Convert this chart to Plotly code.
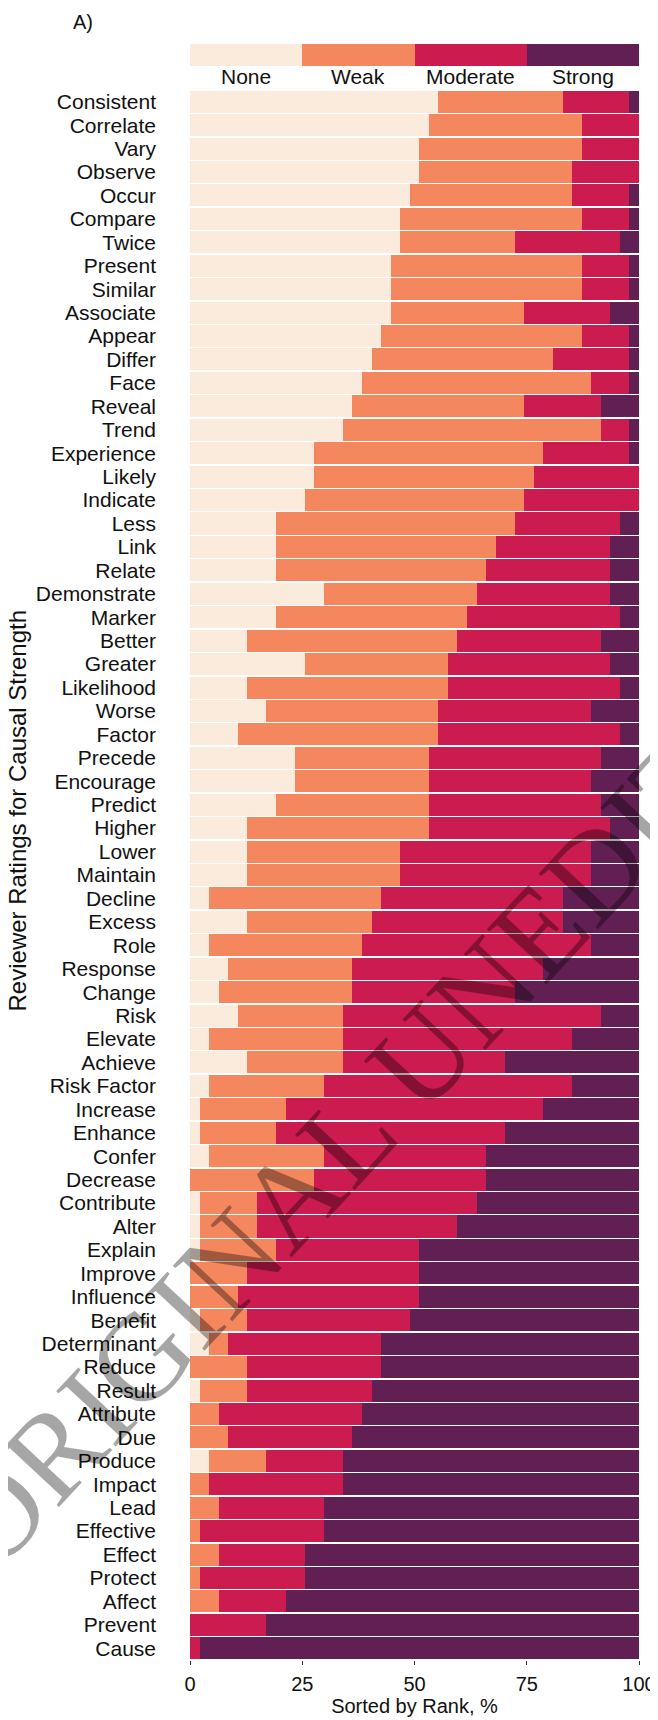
import plotly.graph_objects as go

# reviewer ratings, counts out of 47 reviewers per word
n_reviewers = 47

words = ['Consistent', 'Correlate', 'Vary', 'Observe', 'Occur', 'Compare', 'Twice', 'Present',
         'Similar', 'Associate', 'Appear', 'Differ', 'Face', 'Reveal', 'Trend', 'Experience',
         'Likely', 'Indicate', 'Less', 'Link', 'Relate', 'Demonstrate', 'Marker', 'Better',
         'Greater', 'Likelihood', 'Worse', 'Factor', 'Precede', 'Encourage', 'Predict', 'Higher',
         'Lower', 'Maintain', 'Decline', 'Excess', 'Role', 'Response', 'Change', 'Risk',
         'Elevate', 'Achieve', 'Risk Factor', 'Increase', 'Enhance', 'Confer', 'Decrease',
         'Contribute', 'Alter', 'Explain', 'Improve', 'Influence', 'Benefit', 'Determinant',
         'Reduce', 'Result', 'Attribute', 'Due', 'Produce', 'Impact', 'Lead', 'Effective',
         'Effect', 'Protect', 'Affect', 'Prevent', 'Cause']

none_n = [26, 25, 24, 24, 23, 22, 22, 21, 21, 21, 20, 19, 18, 17, 16, 13, 13, 12, 9, 9, 9, 14,
          9, 6, 12, 6, 8, 5, 11, 11, 9, 6, 6, 6, 2, 6, 2, 4, 3, 5, 2, 6, 2, 1, 1, 2, 0, 1, 1, 1,
          0, 0, 1, 2, 0, 1, 0, 0, 2, 0, 0, 0, 0, 0, 0, 0, 0]
weak_n = [13, 16, 17, 16, 17, 19, 12, 20, 20, 14, 21, 19, 24, 18, 27, 24, 23, 23, 25, 23, 22, 16,
          20, 22, 15, 21, 18, 21, 14, 14, 16, 19, 16, 16, 18, 13, 16, 13, 14, 11, 14, 10, 12, 9,
          8, 12, 13, 6, 6, 8, 6, 5, 5, 2, 6, 5, 3, 4, 6, 2, 3, 1, 3, 1, 3, 0, 0]
moderate_n = [7, 6, 6, 7, 6, 5, 11, 5, 5, 9, 5, 8, 4, 8, 3, 9, 11, 12, 11, 12, 13, 14, 16, 15,
              17, 18, 16, 19, 18, 17, 18, 19, 20, 20, 19, 20, 24, 20, 17, 27, 24, 17, 26, 27, 24,
              17, 18, 23, 21, 15, 18, 19, 17, 16, 14, 13, 15, 13, 8, 14, 11, 13, 9, 11, 7, 8, 1]
strong_n = [1, 0, 0, 0, 1, 1, 2, 1, 1, 3, 1, 1, 1, 4, 1, 1, 0, 0, 2, 3, 3, 3, 2, 4, 3, 2, 5, 2,
            4, 5, 4, 3, 5, 5, 8, 8, 5, 10, 13, 4, 7, 14, 7, 10, 14, 16, 16, 17, 19, 23, 23, 23,
            24, 27, 27, 28, 29, 30, 31, 31, 33, 33, 35, 35, 37, 39, 46]

levels = ['None', 'Weak', 'Moderate', 'Strong']
colors = ['#FAEBDD', '#F4875E', '#CB1B4F', '#611F53']

FONT = 'Liberation Sans, Arial, Helvetica, sans-serif'

fig = go.Figure()

for name, counts, col in zip(levels, [none_n, weak_n, moderate_n, strong_n], colors):
    pct = [c / n_reviewers * 100 for c in counts]
    fig.add_trace(go.Bar(
        x=pct, y=words, orientation='h', name=name,
        marker=dict(color=col, line=dict(width=0)),
        showlegend=False,
        hovertemplate=name + ' %{y}: %{x:.1f}%<extra></extra>'
    ))

# colour key on top (25% per level)
for i, (name, col) in enumerate(zip(levels, colors)):
    fig.add_trace(go.Bar(
        x=[100 / len(levels)], y=['key'], orientation='h', width=1,
        marker=dict(color=col, line=dict(width=0)),
        xaxis='x', yaxis='y2', showlegend=False, hoverinfo='skip'
    ))
    fig.add_annotation(
        x=(i + 0.5) * 100 / len(levels), y=0.9772, xref='x', yref='paper',
        text=name, showarrow=False, xanchor='center', yanchor='middle',
        font=dict(size=21, family=FONT, color='#111111')
    )

# page body has an 8px margin, so the figure is 8px smaller
fig.update_layout(
    width=650, height=1712,
    margin=dict(l=182, r=19, t=32, b=60),
    barmode='stack', bargap=0.06,
    plot_bgcolor='white', paper_bgcolor='white',
    font=dict(family=FONT, color='#111111'),
    xaxis=dict(
        range=[0, 100], tickvals=[0, 25, 50, 75, 100],
        ticks='outside', ticklen=4, tickcolor='#333333', tickwidth=1,
        showgrid=False, zeroline=False, showline=False,
        tickfont=dict(size=20), ticklabelstandoff=2,
        title=dict(text='Sorted by Rank, %', font=dict(size=20), standoff=2),
        automargin=False
    ),
    yaxis=dict(
        domain=[0, 0.96914], autorange='reversed',
        categoryorder='array', categoryarray=words,
        tickmode='array', tickvals=words, ticktext=words,
        showgrid=False, zeroline=False, showline=False, ticks='',
        tickfont=dict(size=21), ticklabelstandoff=33, automargin=False
    ),
    yaxis2=dict(
        domain=[0.98395, 0.99753], anchor='x',
        showticklabels=False, showgrid=False, zeroline=False, ticks=''
    ),
)

fig.add_annotation(
    x=-0.238, y=1.0111, xref='paper', yref='paper', text='A)', showarrow=False,
    xanchor='center', yanchor='middle', font=dict(size=20, family=FONT, color='#111111')
)
fig.add_annotation(
    x=-0.382, y=0.5247, xref='paper', yref='paper', text='Reviewer Ratings for Causal Strength',
    textangle=-90, showarrow=False, xanchor='center', yanchor='middle',
    font=dict(size=24, family=FONT, color='#111111')
)
# journal watermark across the figure
fig.add_annotation(
    x=1.08, y=0.54, xref='paper', yref='paper', text='ORIGINAL UNEDITED MANUSCRIPT',
    textangle=-47, showarrow=False, xanchor='center', yanchor='middle',
    font=dict(size=124, family='Liberation Serif, Times New Roman, serif', color='rgba(0,0,0,0.35)')
)

fig.write_html('out.html')
